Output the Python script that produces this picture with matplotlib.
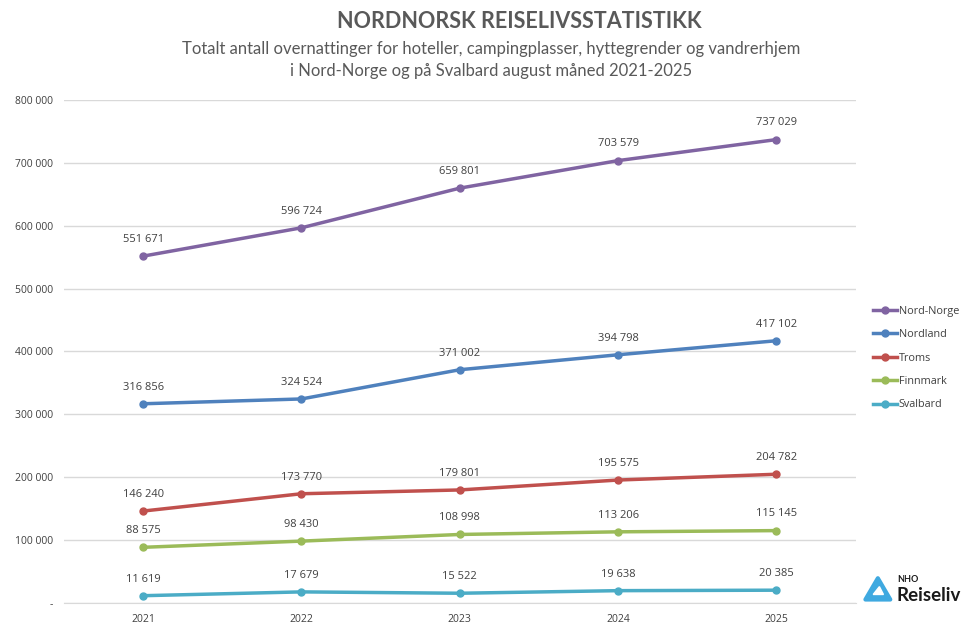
import matplotlib
matplotlib.use("Agg")
from matplotlib import pyplot as plt
from matplotlib.patches import Polygon
from matplotlib.ticker import FuncFormatter

years = ["2021", "2022", "2023", "2024", "2025"]
nord_norge = [551671, 596724, 659801, 703579, 737029]
nordland = [316856, 324524, 371002, 394798, 417102]
troms = [146240, 173770, 179801, 195575, 204782]
finnmark = [88575, 98430, 108998, 113206, 115145]
svalbard = [11619, 17679, 15522, 19638, 20385]

series_names = ["Nord-Norge", "Nordland", "Troms", "Finnmark", "Svalbard"]
series_values = [nord_norge, nordland, troms, finnmark, svalbard]
colors = ["#8064A2", "#4F81BD", "#C0504D", "#9BBB59", "#4BACC6"]

plt.rcParams['font.family'] = ['Open Sans', 'DejaVu Sans']


def thousands(v, pos=None):
    if v == 0:
        return "-"
    return f"{int(v):,}".replace(",", " ")


fig = plt.figure(figsize=(9.7, 6.28), dpi=100)
ax = fig.add_axes([0.066, 0.0398, 0.816, 0.801])

x = list(range(len(years)))
for name, vals, c in zip(series_names, series_values, colors):
    ax.plot(x, vals, color=c, lw=2.5, marker="o", ms=5, label=name)
    # data labels above each point
    for xi, v in zip(x, vals):
        ax.annotate(thousands(v), (xi, v), xytext=(0, 8), textcoords="offset points",
                    ha="center", va="bottom", fontsize=8, color="#404040")

ax.set_xlim(-0.5, len(years) - 0.5)
ax.set_ylim(0, 800000)
ax.set_yticks(range(0, 800001, 100000))
ax.yaxis.set_major_formatter(FuncFormatter(thousands))
ax.set_xticks(x)
ax.set_xticklabels(years)
ax.grid(axis="y", color="#D9D9D9", lw=1)
ax.set_axisbelow(True)
for s in ["top", "right", "left"]:
    ax.spines[s].set_visible(False)
ax.spines["bottom"].set_color("#D9D9D9")
ax.tick_params(axis="both", length=0, labelsize=7.5, labelcolor="#404040", pad=8)

leg = ax.legend(loc="center left", bbox_to_anchor=(1.01, 0.487), frameon=False,
                handlelength=2.2, labelspacing=1.15, handletextpad=0.15,
                prop={'size': 7.8})
for t in leg.get_texts():
    t.set_color("#404040")

fig.text(0.535, 0.966, "NORDNORSK REISELIVSSTATISTIKK", ha="center", va="center",
         fontsize=15.5, fontweight="bold", color="#595959", family=['Lato', 'DejaVu Sans'])
fig.text(0.506, 0.905, "Totalt antall overnattinger for hoteller, campingplasser, hyttegrender og vandrerhjem\n"
         "i Nord-Norge og på Svalbard august måned 2021-2025", ha="center", va="center",
         fontsize=12, color="#595959", linespacing=1.45, family=['Lato', 'DejaVu Sans'])

# logo
logo = fig.add_axes([0.889, 0.04, 0.032, 0.0446])
logo.set_xlim(0, 1)
logo.set_ylim(0, 1)
logo.axis("off")
logo.add_patch(Polygon([[0.1, 0.12], [0.9, 0.12], [0.5, 0.88]], closed=True,
                       fc="#3FA9E0", ec="#3FA9E0", joinstyle="round", lw=3))
logo.add_patch(Polygon([[0.35, 0.3], [0.68, 0.3], [0.55, 0.58]], closed=True,
                       color="white"))
fig.text(0.925, 0.074, "NHO", fontsize=6.5, fontweight="bold", color="#1A1A1A",
         family=['Lato', 'DejaVu Sans'])
fig.text(0.924, 0.043, "Reiseliv", fontsize=13.5, fontweight="bold", color="#1A1A1A",
         family=['Lato', 'DejaVu Sans'])

fig.savefig("out.png", dpi=100)
